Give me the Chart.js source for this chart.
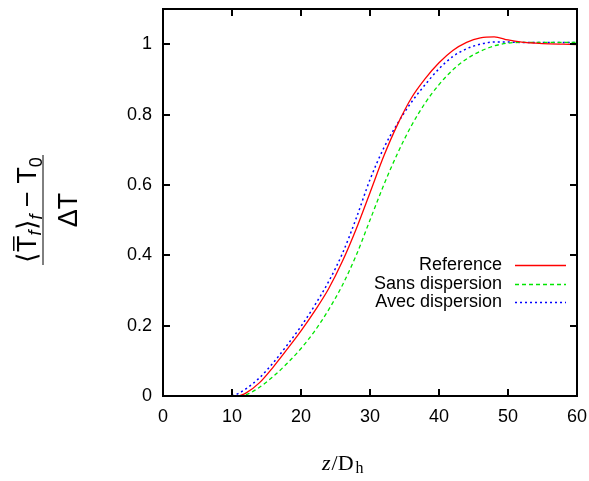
<!DOCTYPE html>
<html>
<head>
<meta charset="utf-8">
<script src="https://cdn.jsdelivr.net/npm/chart.js@4.4.1/dist/chart.umd.min.js"></script>
<style>
    html, body { margin: 0; padding: 0; background: #fff; }
    #wrap { width: 589px; height: 481px; position: relative; }
</style>
</head>
<body>
<div id="wrap"><canvas id="myChart"></canvas></div>
<script>
// z/Dh positions
const zVals = [10, 11, 12, 14, 16, 18, 20, 22, 24, 26, 28, 30, 32, 34, 36, 38, 40, 42, 44, 46, 48, 50, 52, 54, 56, 58, 60];
const reference = [null, 0, 0.008, 0.038, 0.083, 0.133, 0.185, 0.242, 0.305, 0.383, 0.475, 0.578, 0.682, 0.772, 0.847, 0.902, 0.947, 0.982, 1.005, 1.018, 1.021, 1.012, 1.006, 1.003, 1.001, 1.0, 0.999];
const sansDispersion = [null, 0, 0.003, 0.025, 0.056, 0.093, 0.135, 0.185, 0.245, 0.315, 0.40, 0.50, 0.60, 0.69, 0.768, 0.833, 0.885, 0.927, 0.958, 0.98, 0.995, 1.003, 1.005, 1.005, 1.005, 1.005, 1.005];
const avecDispersion = [0, 0.008, 0.02, 0.052, 0.095, 0.145, 0.198, 0.258, 0.325, 0.405, 0.505, 0.615, 0.705, 0.775, 0.835, 0.885, 0.93, 0.965, 0.987, 1.0, 1.006, 1.006, 1.005, 1.005, 1.005, 1.005, 1.005];
const seriesNames = ['Reference', 'Sans dispersion', 'Avec dispersion'];
const xTicks = [0, 10, 20, 30, 40, 50, 60];
const yTicks = [0, 0.2, 0.4, 0.6, 0.8, 1];

function toPoints(values) {
    return zVals.map(function(z, i) { return { x: z, y: values[i] }; });
}

// frame, inward ticks, legend and axis titles (gnuplot look)
const decorations = {
    id: 'decorations',
    afterDraw: function(chart) {
        const ctx = chart.ctx;
        const a = chart.chartArea;
        const xs = chart.scales.x;
        const ys = chart.scales.y;
        ctx.save();
        ctx.strokeStyle = '#000';
        ctx.lineWidth = 2;
        ctx.beginPath();
        xTicks.forEach(function(v) {
            const px = Math.round(xs.getPixelForValue(v));
            ctx.moveTo(px, a.bottom); ctx.lineTo(px, a.bottom - 7);
            ctx.moveTo(px, a.top); ctx.lineTo(px, a.top + 7);
        });
        yTicks.forEach(function(v) {
            const py = Math.round(ys.getPixelForValue(v));
            ctx.moveTo(a.left, py); ctx.lineTo(a.left + 7, py);
            ctx.moveTo(a.right, py); ctx.lineTo(a.right - 7, py);
        });
        ctx.stroke();
        ctx.strokeRect(a.left, a.top, a.right - a.left, a.bottom - a.top);

        // legend
        ctx.font = '18px "Liberation Sans", Arial, sans-serif';
        ctx.textAlign = 'right';
        ctx.textBaseline = 'middle';
        ctx.fillStyle = '#000';
        chart.data.datasets.forEach(function(ds, i) {
            const y = 265 + i * 18.7;
            ctx.fillText(seriesNames[i], 502, y);
            ctx.save();
            ctx.strokeStyle = ds.borderColor;
            ctx.lineWidth = ds.borderWidth;
            ctx.setLineDash(ds.borderDash || []);
            ctx.beginPath();
            ctx.moveTo(515, Math.round(y) + 0.5);
            ctx.lineTo(566, Math.round(y) + 0.5);
            ctx.stroke();
            ctx.restore();
        });

        // x title: z/D_h
        ctx.textAlign = 'left';
        ctx.textBaseline = 'alphabetic';
        let x = 322;
        const base = 470;
        ctx.font = 'italic 22px "Liberation Serif", serif';
        ctx.fillText('z', x, base);
        x += ctx.measureText('z').width + 1;
        ctx.font = '22px "Liberation Serif", serif';
        ctx.fillText('/', x, base);
        x += ctx.measureText('/').width;
        ctx.fillText('D', x, base);
        x += ctx.measureText('D').width + 2;
        ctx.font = '16px "Liberation Serif", serif';
        ctx.fillText('h', x, base + 3);

        // y title: fraction, rotated
        ctx.translate(43, 210);
        ctx.rotate(-Math.PI / 2);
        ctx.lineWidth = 1;
        ctx.beginPath();
        ctx.moveTo(-55, 0);
        ctx.lineTo(55, 0);
        ctx.stroke();

        const big = '27px "Liberation Sans", Arial, sans-serif';
        const small = '18px "Liberation Sans", Arial, sans-serif';
        const smallIt = 'italic 18px "Liberation Sans", Arial, sans-serif';
        const parts = [
            { t: '\u27E8', f: big, dy: 0 },
            { t: 'T', f: big, dy: 0, bar: true },
            { t: 'f', f: smallIt, dy: 5 },
            { t: '\u27E9', f: big, dy: 0 },
            { t: 'f', f: smallIt, dy: 6 },
            { t: ' \u2212 T', f: big, dy: 0 },
            { t: '0', f: small, dy: 6 }
        ];
        let w = 0;
        parts.forEach(function(p) { ctx.font = p.f; p.w = ctx.measureText(p.t).width; w += p.w; });
        let u = -w / 2;
        const nb = -7;
        parts.forEach(function(p) {
            ctx.font = p.f;
            ctx.fillText(p.t, u, nb + p.dy);
            if (p.bar) {
                ctx.fillRect(u + 1, nb - 23, p.w - 2, 1.5);
            }
            u += p.w;
        });
        ctx.font = big;
        ctx.textAlign = 'center';
        ctx.fillText('\u0394T', 0, 34);
        ctx.restore();
    }
};

function mychart() {
    const ctx = document.getElementById('myChart');
    const data = {
        datasets: [{
            label: seriesNames[0],
            data: toPoints(reference),
            borderColor: 'rgb(255, 0, 0)',
            borderWidth: 1.3,
            order: 0
        }, {
            label: seriesNames[1],
            data: toPoints(sansDispersion),
            borderColor: 'rgb(0, 230, 0)',
            borderWidth: 1.3,
            borderDash: [4, 3],
            order: 1
        }, {
            label: seriesNames[2],
            data: toPoints(avecDispersion),
            borderColor: 'rgb(0, 0, 255)',
            borderWidth: 1.5,
            borderDash: [2, 3],
            order: 2
        }]
    };

    new Chart(ctx, {
        type: 'line',
        data: data,
        options: {
            responsive: true,
            maintainAspectRatio: false,
            animation: false,
            layout: { padding: { left: 0, top: 9, right: 12, bottom: 0 } },
            elements: {
                point: { radius: 0 },
                line: { cubicInterpolationMode: 'monotone', fill: false }
            },
            plugins: {
                legend: false,
                tooltip: { enabled: false }
            },
            scales: {
                x: {
                    type: 'linear',
                    min: 0,
                    max: 60,
                    afterFit: function(s) { s.height = 85; s.paddingLeft = 0; s.paddingRight = 0; },
                    afterBuildTicks: function(s) { s.ticks = xTicks.map(function(v) { return { value: v }; }); },
                    grid: { display: false, drawTicks: false },
                    border: { display: false },
                    ticks: {
                        color: '#000',
                        padding: 10,
                        maxRotation: 0,
                        font: { family: '"Liberation Sans", Arial, sans-serif', size: 18 }
                    }
                },
                y: {
                    type: 'linear',
                    min: 0,
                    max: 1.1,
                    afterFit: function(s) { s.width = 163; s.paddingTop = 0; s.paddingBottom = 0; },
                    afterBuildTicks: function(s) { s.ticks = yTicks.map(function(v) { return { value: v }; }); },
                    grid: { display: false, drawTicks: false },
                    border: { display: false },
                    ticks: {
                        color: '#000',
                        padding: 11,
                        callback: function(v) { return String(v); },
                        font: { family: '"Liberation Sans", Arial, sans-serif', size: 18 }
                    }
                }
            }
        },
        plugins: [decorations]
    });
}

document.addEventListener("DOMContentLoaded", function() {
    mychart();
});
</script>
</body>
</html>
